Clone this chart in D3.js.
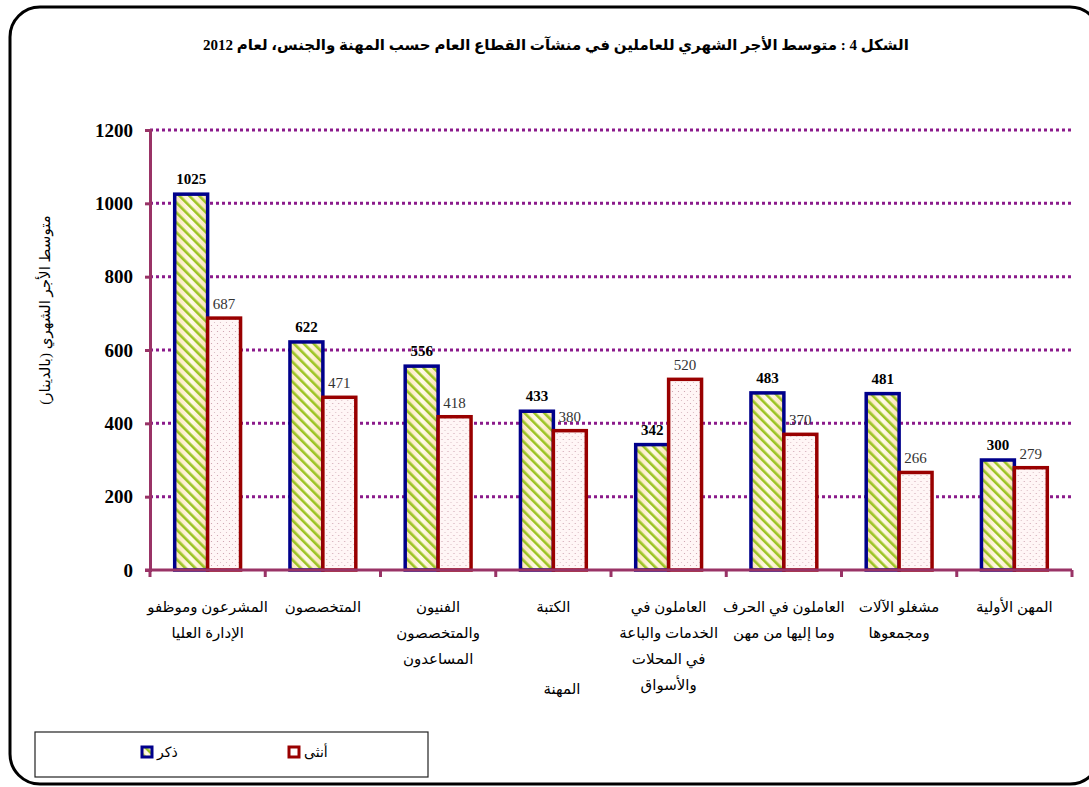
<!DOCTYPE html>
<html>
<head>
<meta charset="utf-8">
<script src="https://cdn.jsdelivr.net/npm/d3@7"></script>
<style>
  body { margin: 0; background: #fff; }
  svg text { font-family: "Liberation Serif", "Times New Roman", "DejaVu Sans", serif; }
</style>
</head>
<body>
<div id="chart"></div>
<script>
// data
const categories = [
  ["المشرعون وموظفو", "الإدارة العليا"],
  ["المتخصصون"],
  ["الفنيون", "والمتخصصون", "المساعدون"],
  ["الكتبة"],
  ["العاملون في", "الخدمات والباعة", "في المحلات", "والأسواق"],
  ["العاملون في الحرف", "وما إليها من مهن"],
  ["مشغلو الآلات", "ومجمعوها"],
  ["المهن الأولية"]
];
const maleValues = [1025, 622, 556, 433, 342, 483, 481, 300];
const femaleValues = [687, 471, 418, 380, 520, 370, 266, 279];
const yTicks = [0, 200, 400, 600, 800, 1000, 1200];
const seriesNames = ["ذكر", "أنثى"];
const chartTitle = "الشكل 4 : متوسط الأجر الشهري للعاملين في منشآت القطاع العام حسب المهنة والجنس، لعام   2012";
const yTitle = "متوسط الأجر الشهري (بالدينار)";
const xTitle = "المهنة";

const width = 1089, height = 787;
const margin = { top: 130, left: 150, right: 17, bottom: 217 };
const axisColor = "#993366";
const maleStroke = "#00008b", femaleStroke = "#990000";

const svg = d3.select("#chart").append("svg")
  .attr("width", width)
  .attr("height", height);

// patterns
const defs = svg.append("defs");
const grad = defs.append("linearGradient").attr("id", "maleGrad")
  .attr("x1", 0).attr("y1", 0).attr("x2", 1).attr("y2", 0);
grad.append("stop").attr("offset", "0%").attr("stop-color", "#fbe3b4");
grad.append("stop").attr("offset", "50%").attr("stop-color", "#fffbea");
grad.append("stop").attr("offset", "100%").attr("stop-color", "#fbe3b4");

const stripes = defs.append("pattern").attr("id", "maleStripes")
  .attr("patternUnits", "userSpaceOnUse")
  .attr("width", 7).attr("height", 7)
  .attr("patternTransform", "rotate(-45)");
stripes.append("rect").attr("width", 2.6).attr("height", 7).attr("fill", "#9cc424");

const dots = defs.append("pattern").attr("id", "femaleDots")
  .attr("patternUnits", "userSpaceOnUse")
  .attr("width", 6).attr("height", 6);
dots.append("rect").attr("width", 6).attr("height", 6).attr("fill", "#fff6f6");
dots.append("circle").attr("cx", 1.5).attr("cy", 1.5).attr("r", 0.6).attr("fill", "#c89aa8");
dots.append("circle").attr("cx", 4.5).attr("cy", 4.5).attr("r", 0.6).attr("fill", "#d8b8c0");

// outer frame
svg.append("rect")
  .attr("x", 10).attr("y", 7)
  .attr("width", 1090).attr("height", 777)
  .attr("rx", 30)
  .attr("fill", "none")
  .attr("stroke", "#000")
  .attr("stroke-width", 3);

// title
svg.append("text")
  .attr("x", 556).attr("y", 50)
  .attr("text-anchor", "middle")
  .attr("direction", "rtl")
  .style("font-size", "15px")
  .style("font-weight", "bold")
  .text(chartTitle);

const x = d3.scaleBand()
  .domain(d3.range(categories.length))
  .range([margin.left, width - margin.right])
  .paddingInner(0).paddingOuter(0);

const xSex = d3.scaleBand()
  .domain(["m", "f"])
  .range([0, x.bandwidth()])
  .paddingInner(0).paddingOuter(0.75);

const y = d3.scaleLinear()
  .domain([0, 1200])
  .range([height - margin.bottom, margin.top]);

// grid lines
svg.append("g")
  .selectAll("line")
  .data(yTicks.filter(d => d > 0))
  .join("line")
  .attr("x1", margin.left).attr("x2", width - margin.right)
  .attr("y1", d => y(d)).attr("y2", d => y(d))
  .attr("stroke", "#8b1a8b")
  .attr("stroke-width", 3)
  .attr("stroke-dasharray", "3,3");

// bars
const groups = svg.append("g")
  .selectAll("g")
  .data(categories.map((c, i) => ({ i, m: maleValues[i], f: femaleValues[i] })))
  .join("g")
  .attr("transform", d => `translate(${x(d.i)},0)`);

groups.append("rect")
  .attr("x", xSex("m")).attr("width", xSex.bandwidth())
  .attr("y", d => y(d.m)).attr("height", d => y(0) - y(d.m))
  .attr("fill", "url(#maleGrad)");
groups.append("rect")
  .attr("x", xSex("m")).attr("width", xSex.bandwidth())
  .attr("y", d => y(d.m)).attr("height", d => y(0) - y(d.m))
  .attr("fill", "url(#maleStripes)")
  .attr("stroke", maleStroke)
  .attr("stroke-width", 3.5);

groups.append("rect")
  .attr("x", xSex("f")).attr("width", xSex.bandwidth())
  .attr("y", d => y(d.f)).attr("height", d => y(0) - y(d.f))
  .attr("fill", "url(#femaleDots)")
  .attr("stroke", femaleStroke)
  .attr("stroke-width", 3.5);

// value labels
groups.append("text")
  .attr("x", xSex("m") + xSex.bandwidth() / 2)
  .attr("y", d => y(d.m) - 10)
  .attr("text-anchor", "middle")
  .style("font-size", "15px")
  .style("font-weight", "bold")
  .text(d => d.m);
groups.append("text")
  .attr("x", xSex("f") + xSex.bandwidth() / 2)
  .attr("y", d => y(d.f) - 9)
  .attr("text-anchor", "middle")
  .style("font-size", "15px")
  .attr("fill", "#333")
  .text(d => d.f);

// y axis
const yAxis = svg.append("g")
  .attr("transform", `translate(${margin.left},0)`)
  .call(d3.axisLeft(y).tickValues(yTicks).tickFormat(d3.format("d")).tickSize(5).tickPadding(12));
yAxis.select(".domain").attr("stroke", axisColor).attr("stroke-width", 3);
yAxis.selectAll(".tick line").attr("stroke", axisColor).attr("stroke-width", 3);
yAxis.selectAll(".tick text")
  .attr("fill", "#000")
  .style("font-family", "'Liberation Serif', serif")
  .style("font-size", "19px")
  .style("font-weight", "bold");

// x axis
const xAxis = svg.append("g")
  .attr("transform", `translate(0,${y(0)})`);
xAxis.append("line")
  .attr("x1", margin.left - 5).attr("x2", width - margin.right)
  .attr("stroke", axisColor).attr("stroke-width", 3);
xAxis.selectAll(".xtick")
  .data(d3.range(categories.length + 1))
  .join("line")
  .attr("class", "xtick")
  .attr("x1", d => margin.left + d * x.step())
  .attr("x2", d => margin.left + d * x.step())
  .attr("y1", 0).attr("y2", 7)
  .attr("stroke", axisColor).attr("stroke-width", 3);

// category labels
svg.append("g")
  .selectAll("text")
  .data(categories.map((c, i) => ({ c, i })))
  .join("text")
  .attr("text-anchor", "middle")
  .attr("direction", "rtl")
  .style("font-size", "15px")
  .each(function (d) {
    d3.select(this).selectAll("tspan")
      .data(d.c)
      .join("tspan")
      .attr("x", x(d.i) + x.bandwidth() / 2)
      .attr("y", (l, k) => 612 + k * 26)
      .text(l => l);
  });

// axis titles
svg.append("text")
  .attr("x", 562).attr("y", 694)
  .attr("text-anchor", "middle")
  .style("font-size", "15px")
  .text(xTitle);

svg.append("text")
  .attr("transform", `translate(50,${(y(0) + y(1200)) / 2 - 40}) rotate(-90)`)
  .attr("text-anchor", "middle")
  .attr("direction", "rtl")
  .style("font-size", "15px")
  .text(yTitle);

// legend
const legend = svg.append("g");
legend.append("rect")
  .attr("x", 35).attr("y", 732)
  .attr("width", 393).attr("height", 45)
  .attr("fill", "#fff")
  .attr("stroke", "#222")
  .attr("stroke-width", 1.2);

const legendItems = [
  { name: seriesNames[0], x: 142, fill: "url(#maleStripes)", bg: "url(#maleGrad)", stroke: maleStroke },
  { name: seriesNames[1], x: 289, fill: "#fff", bg: "#fff", stroke: femaleStroke }
];
const li = legend.selectAll(".item")
  .data(legendItems)
  .join("g")
  .attr("class", "item");
li.append("rect")
  .attr("x", d => d.x).attr("y", 747)
  .attr("width", 10).attr("height", 10)
  .attr("fill", d => d.bg);
li.append("rect")
  .attr("x", d => d.x).attr("y", 747)
  .attr("width", 10).attr("height", 10)
  .attr("fill", d => d.fill)
  .attr("stroke", d => d.stroke)
  .attr("stroke-width", 3);
li.append("text")
  .attr("x", d => d.x + 15).attr("y", 757)
  .style("font-size", "14px")
  .text(d => d.name);
</script>
</body>
</html>
